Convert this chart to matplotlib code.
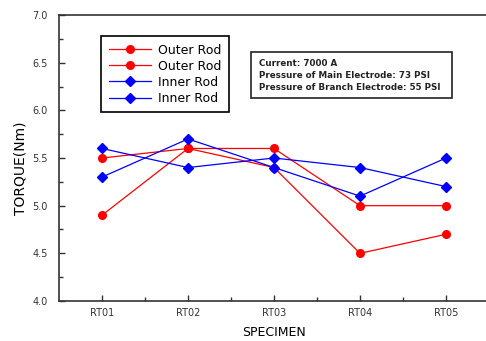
import matplotlib
matplotlib.use("Agg")
import matplotlib.pyplot as plt
from matplotlib.patches import Rectangle

specimens = ["RT01", "RT02", "RT03", "RT04", "RT05"]
outer_rod_1 = [4.9, 5.6, 5.4, 4.5, 4.7]
outer_rod_2 = [5.5, 5.6, 5.6, 5.0, 5.0]
inner_rod_1 = [5.6, 5.4, 5.5, 5.4, 5.2]
inner_rod_2 = [5.3, 5.7, 5.4, 5.1, 5.5]
series_labels = ["Outer Rod", "Outer Rod", "Inner Rod", "Inner Rod"]
info_lines = ["Current: 7000 A",
              "Pressure of Main Electrode: 73 PSI",
              "Pressure of Branch Electrode: 55 PSI"]

W, H = 486, 341
fig = plt.figure(figsize=(W / 100, H / 100), dpi=100)
plt.rcParams['font.family'] = ['DejaVu Sans']

def fx(px):
    return px / W

def fy(py):
    return 1 - py / H

ax_left, ax_top, ax_right, ax_bottom = 59, 15, 489, 301
ax = fig.add_axes([fx(ax_left), fy(ax_bottom), fx(ax_right - ax_left), (ax_bottom - ax_top) / H])

x = list(range(1, len(specimens) + 1))
ax.plot(x, outer_rod_1, color="#ff0000", lw=0.9, marker="o", ms=5.5, label=series_labels[0])
ax.plot(x, outer_rod_2, color="#ff0000", lw=0.9, marker="o", ms=5.5, label=series_labels[1])
ax.plot(x, inner_rod_1, color="#0000ff", lw=0.9, marker="D", ms=5.5, label=series_labels[2])
ax.plot(x, inner_rod_2, color="#0000ff", lw=0.9, marker="D", ms=5.5, label=series_labels[3])

ax.set_xlim(0.5, 5.5)
ax.set_ylim(4.0, 7.0)
ax.set_xticks(x)
ax.set_xticklabels(specimens)
ax.set_xticks([1.5, 2.5, 3.5, 4.5], minor=True)
ax.set_yticks([4.0, 4.5, 5.0, 5.5, 6.0, 6.5, 7.0])
ax.set_yticks([4.25, 4.75, 5.25, 5.75, 6.25, 6.75], minor=True)
ax.tick_params(axis="both", which="major", direction="in", length=4, width=1,
               labelsize=7, colors="#333333", pad=5)
ax.tick_params(axis="both", which="minor", direction="in", length=3, width=1, colors="#333333")
ax.tick_params(axis="y", pad=8)
for s in ax.spines.values():
    s.set_linewidth(1.2)
    s.set_color("#333333")

ax.set_xlabel("SPECIMEN", fontsize=9)
ax.xaxis.set_label_coords(0.5, -(333 - ax_bottom) / (ax_bottom - ax_top))
ax.xaxis.label.set_va("center")
ax.set_ylabel("TORQUE(Nm)", fontsize=10)
ax.yaxis.set_label_coords(-(ax_left - 21) / (ax_right - ax_left), (ax_bottom - 168) / (ax_bottom - ax_top))
ax.yaxis.label.set_va("center")

leg = ax.legend(loc="upper left", bbox_to_anchor=((101 - ax_left) / (ax_right - ax_left),
                                                  (ax_bottom - 36) / (ax_bottom - ax_top)),
                borderaxespad=0, fancybox=False, edgecolor="black", fontsize=9,
                handlelength=3.4, handletextpad=0.6, labelspacing=0.25, borderpad=0.6,
                framealpha=1)
leg.get_frame().set_linewidth(1.2)

# info box
fig.patches.append(Rectangle((fx(251), fy(98)), fx(452 - 251), (98 - 52) / H,
                             transform=fig.transFigure, fill=False,
                             edgecolor="#222222", lw=1.2))
for i, line in enumerate(info_lines):
    fig.text(fx(259), fy(63 + i * 12.5), line, fontsize=6.3, fontweight="bold",
             va="center", ha="left", color="#222222")

fig.savefig("out.png", dpi=100)
